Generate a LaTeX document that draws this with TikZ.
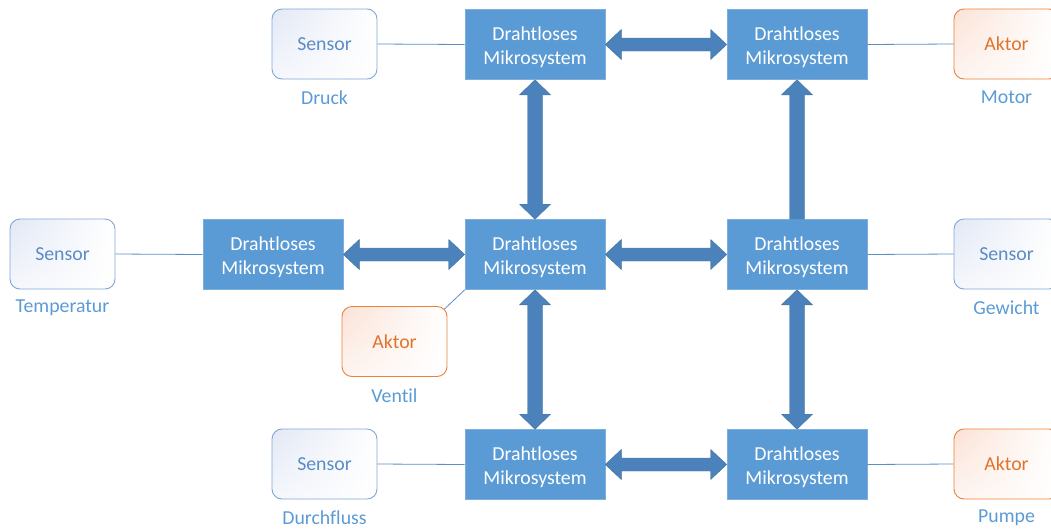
\documentclass[tikz,border=0pt]{standalone}
\usepackage{fontspec}
\setmainfont{Carlito}[Ligatures=NoCommon]
\usetikzlibrary{calc,shadings}

\definecolor{boxblue}{HTML}{5B9BD5}
\definecolor{boxedge}{HTML}{7EAEDC}
\definecolor{arrowblue}{HTML}{4C82BC}
\definecolor{arrowedge}{HTML}{41719C}
\definecolor{linkblue}{HTML}{5B8FC6}
\definecolor{labelblue}{HTML}{5B9BD5}
\definecolor{sensortext}{HTML}{5A8CC6}
\definecolor{sensoredge}{HTML}{7FA7D6}
\definecolor{sensortint}{HTML}{E2E8F5}
\definecolor{aktoredge}{HTML}{E8823C}
\definecolor{aktortext}{HTML}{E0742C}
\definecolor{aktortint}{HTML}{FBE2D6}

% a tall zero-width strut that lowers the two text lines a little
\newcommand\firstline{\rule{0pt}{19pt}}

\tikzset{
  txt/.style={font=\fontsize{19.8}{24}\selectfont},
  mikro/.style={txt, rectangle, fill=boxblue, draw=boxedge, line width=0.6pt,
    minimum width=140pt, minimum height=70pt, inner sep=0pt,
    text=white, align=center},
  roundbox/.style={txt, rectangle, rounded corners=10pt, line width=0.9pt,
    minimum width=105pt, minimum height=70pt, inner sep=0pt},
  sensorbox/.style={roundbox, draw=sensoredge, text=sensortext,
    upper left=sensortint, lower left=white!65!sensortint,
    upper right=white, lower right=white},
  aktorbox/.style={roundbox, draw=aktoredge, text=aktortext,
    upper left=aktortint, lower left=white!65!aktortint,
    upper right=white, lower right=white},
  caption/.style={txt, text=labelblue, inner sep=0pt},
  link/.style={draw=linkblue, line width=0.8pt},
  blockarrow/.style={fill=arrowblue, draw=arrowedge, line width=0.4pt, line join=miter}
}

% horizontal two-headed block arrow from the east side of #1 to the west side of #2
\newcommand\blockH[2]{%
  \filldraw[blockarrow] (#1.east) -- ++(16,-15) -- ++(0,8.5)
    -- ($(#2.west)+(-16,-6.5)$) -- ++(0,-8.5) -- (#2.west) -- ++(-16,15)
    -- ++(0,-8.5) -- ($(#1.east)+(16,6.5)$) -- ++(0,8.5) -- cycle;}
% vertical two-headed block arrow between the south side of #1 and the north side of #2
\newcommand\blockV[2]{%
  \filldraw[blockarrow] (#1.south) -- ++(15.5,15) -- ++(-8,0)
    -- ($(#2.north)+(7.5,-15)$) -- ++(8,0) -- (#2.north) -- ++(-15.5,-15)
    -- ++(8,0) -- ($(#1.south)+(-7.5,15)$) -- ++(-8,0) -- cycle;}
% vertical block arrow pointing up from the north side of #2 to the south side of #1
\newcommand\blockUp[2]{%
  \filldraw[blockarrow] (#1.south) -- ++(15.5,15) -- ++(-8,0)
    -- ($(#2.north)+(7.5,0)$) -- ($(#2.north)+(-7.5,0)$)
    -- ($(#1.south)+(-7.5,15)$) -- ++(-8,0) -- cycle;}

\begin{document}
\begin{tikzpicture}[x=1pt, y=-1pt]
\useasboundingbox (0,0) rectangle (1051,528);

% wireless microsystems
\node[mikro] (m11) at (535,44.5)  {\firstline Drahtloses\\Mikrosystem};
\node[mikro] (m12) at (797,44.5)  {\firstline Drahtloses\\Mikrosystem};
\node[mikro] (m20) at (273,254.5) {\firstline Drahtloses\\Mikrosystem};
\node[mikro] (m21) at (535,254.5) {\firstline Drahtloses\\Mikrosystem};
\node[mikro] (m22) at (797,254.5) {\firstline Drahtloses\\Mikrosystem};
\node[mikro] (m31) at (535,464.5) {\firstline Drahtloses\\Mikrosystem};
\node[mikro] (m32) at (797,464.5) {\firstline Drahtloses\\Mikrosystem};

% sensors and actuators
\node[sensorbox] (sd) at (324.5,44)   {Sensor};
\node[aktorbox]  (am) at (1006.5,44)  {Aktor};
\node[sensorbox] (st) at (62.5,254)   {Sensor};
\node[sensorbox] (sg) at (1006.5,254) {Sensor};
\node[aktorbox]  (av) at (394.5,341.5) {Aktor};
\node[sensorbox] (sf) at (324.5,464)  {Sensor};
\node[aktorbox]  (ap) at (1006.5,464) {Aktor};

% captions
\node[caption] (ld) at (324.5,97.5)   {Druck};
\node[caption] (lm) at (1006.5,97.5)  {Motor};
\node[caption] (lt) at (62.5,307.5)   {Temperatur};
\node[caption] (lg) at (1006.5,307.5) {Gewicht};
\node[caption] (lv) at (394.5,395.5)  {Ventil};
\node[caption] (lf) at (324.5,517.5)  {Durchfluss};
\node[caption] (lp) at (1006.5,517.5) {Pumpe};

% wired links between devices and microsystems
\draw[link] (sd.east) -- (m11.west);
\draw[link] (m12.east) -- (am.west);
\draw[link] (st.east) -- (m20.west);
\draw[link] (m22.east) -- (sg.west);
\draw[link] ($(av.north east)+(-3,3)$) -- (m21.south west);
\draw[link] (sf.east) -- (m31.west);
\draw[link] (m32.east) -- (ap.west);

% radio links
\blockH{m11}{m12}
\blockH{m20}{m21}
\blockH{m21}{m22}
\blockH{m31}{m32}
\blockV{m11}{m21}
\blockV{m21}{m31}
\blockV{m22}{m32}
\blockUp{m12}{m22}
\end{tikzpicture}
\end{document}
